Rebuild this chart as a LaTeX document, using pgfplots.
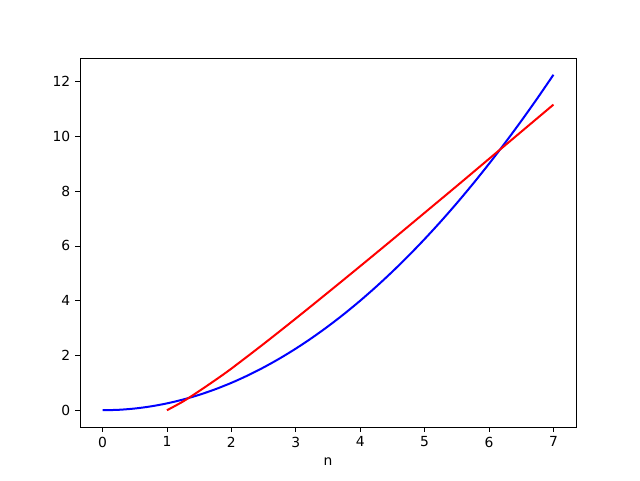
\documentclass[border=0pt]{standalone}
\usepackage{pgfplots}
\pgfplotsset{compat=1.18}
\usepackage{fontspec}
\setmainfont{DejaVu Sans}
\begin{document}
\fontsize{10.4pt}{12pt}\selectfont
\begin{tikzpicture}
\begin{axis}[
  at={(0,0)}, anchor=south west,
  scale only axis,
  width=372pt, height=276.75pt,
  xmin=-0.35, xmax=7.35,
  ymin=-0.6125, ymax=12.8625,
  xtick={0,1,2,3,4,5,6,7},
  ytick={0,2,4,6,8,10,12},
  tick align=outside,
  tick pos=left,
  major tick length=3.65pt,
  tick style={black, line width=0.6pt},
  axis line style={line width=0.6pt},
  /pgf/number format/assume math mode=true,
  ticklabel style={font=\fontsize{10.4pt}{12pt}\selectfont},
  xlabel={n},
  xlabel style={font=\fontsize{10.4pt}{12pt}\selectfont, yshift=-1pt},
  clip=false,
]
\addplot[blue, line width=1.5pt, smooth] coordinates {
(0,0) (0.25,0.015625) (0.5,0.0625) (0.75,0.140625) (1,0.25) (1.25,0.390625) (1.5,0.5625) (1.75,0.765625)
(2,1) (2.25,1.265625) (2.5,1.5625) (2.75,1.890625) (3,2.25) (3.25,2.640625) (3.5,3.0625) (3.75,3.515625)
(4,4) (4.25,4.515625) (4.5,5.0625) (4.75,5.640625) (5,6.25) (5.25,6.890625) (5.5,7.5625) (5.75,8.265625)
(6,9) (6.25,9.765625) (6.5,10.5625) (6.75,11.390625) (7,12.25)
};
\addplot[red, line width=1.5pt, smooth, tension=0.5] coordinates {
(1,0) (1.25,0.32) (1.5,0.7) (1.75,1.1) (2,1.52) (2.5,2.42) (3,3.35) (3.5,4.3) (4,5.26)
(4.5,6.23) (5,7.21) (5.5,8.19) (6,9.18) (6.5,10.17) (7,11.16)
};
\end{axis}
\path (-60pt,-39.75pt) rectangle (420pt,320.25pt);
\end{tikzpicture}
\end{document}
